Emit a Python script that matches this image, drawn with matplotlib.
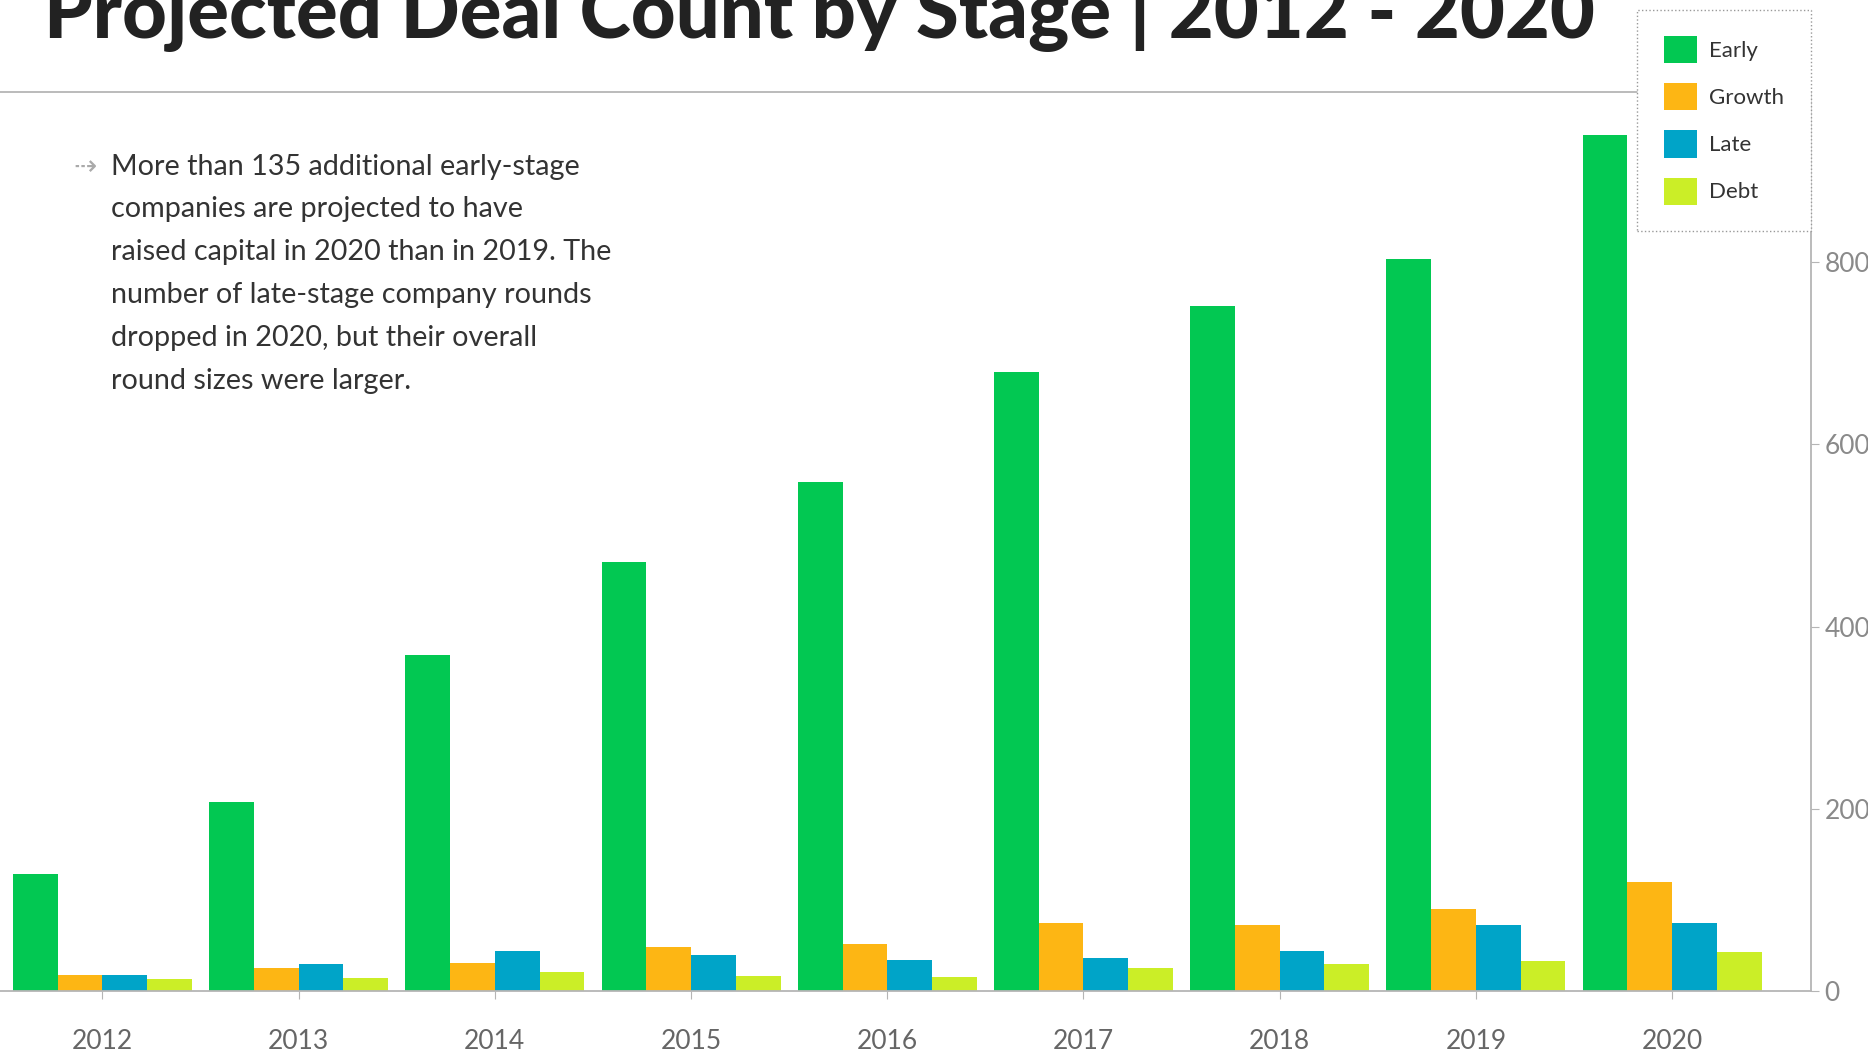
import numpy as np
import matplotlib.pyplot as plt
from matplotlib.patches import Patch

plt.rcParams['font.family'] = ['Lato', 'DejaVu Sans']

years = ['2012', '2013', '2014', '2015', '2016', '2017', '2018', '2019', '2020']
early = [129, 208, 369, 471, 559, 680, 752, 803, 939]
growth = [18, 26, 31, 48, 52, 75, 73, 90, 120]
late = [18, 30, 44, 40, 34, 37, 44, 73, 75]
debt = [13, 14, 21, 17, 16, 26, 30, 33, 43]

stages = ['Early', 'Growth', 'Late', 'Debt']
colors = ['#02C852', '#FDB614', '#00A4C8', '#CBEE27']
y_ticks = [0, 200, 400, 600, 800]

note = ("More than 135 additional early-stage\n"
        "companies are projected to have\n"
        "raised capital in 2020 than in 2019. The\n"
        "number of late-stage company rounds\n"
        "dropped in 2020, but their overall\n"
        "round sizes were larger.")

fig = plt.figure(figsize=(18.68, 10.52), dpi=100)
ax = fig.add_axes([0, 51 / 883, 1520 / 1568, 755 / 883])

x = np.arange(len(years))
w = 0.228
for i, (vals, c) in enumerate(zip([early, growth, late, debt], colors)):
    ax.bar(x + (i - 1.5) * w, vals, width=w, color=c, linewidth=0)

ax.set_xlim(-0.522, 8.707)
ax.set_ylim(0, 987)
ax.set_xticks(x)
ax.set_xticklabels(years)
ax.set_yticks(y_ticks)
ax.yaxis.tick_right()

ax.spines['left'].set_visible(False)
for s in ['top', 'right', 'bottom']:
    ax.spines[s].set_color('#b5b5b5')
    ax.spines[s].set_linewidth(1.3)

ax.tick_params(axis='x', length=6, color='#b5b5b5', pad=21, labelsize=19, labelcolor='#666666')
ax.tick_params(axis='y', length=6, color='#b5b5b5', pad=4, labelsize=19, labelcolor='#8a8a8a')

# title sits partly above the top edge, as in the original slide
fig.text(37 / 1568, 1 - 32 / 883, 'Projected Deal Count by Stage | 2012 - 2020',
         fontsize=56, fontweight='black', color='#222222', va='baseline')

fig.text(93 / 1568, 1 - 129 / 883, note, fontsize=20.7, color='#333333',
         va='top', linespacing=1.8)
fig.text(62 / 1568, 1 - 140 / 883, '⇢', fontsize=20, color='#aaaaaa',
         va='center', family=['DejaVu Sans'])

handles = [Patch(facecolor=c, edgecolor='none', label=l) for l, c in zip(stages, colors)]
leg = fig.legend(handles=handles, loc='upper left', bbox_to_anchor=(1374 / 1568, 1 - 8 / 883),
                 fontsize=16, handlelength=1.5, handleheight=1.5, labelspacing=0.9,
                 handletextpad=0.55, borderpad=1.2, borderaxespad=0, fancybox=False,
                 framealpha=1)
leg.get_frame().set_linestyle(':')
leg.get_frame().set_edgecolor('#999999')
leg.get_frame().set_linewidth(1.0)
for t in leg.get_texts():
    t.set_color('#333333')

fig.savefig('out.png', dpi=100)
